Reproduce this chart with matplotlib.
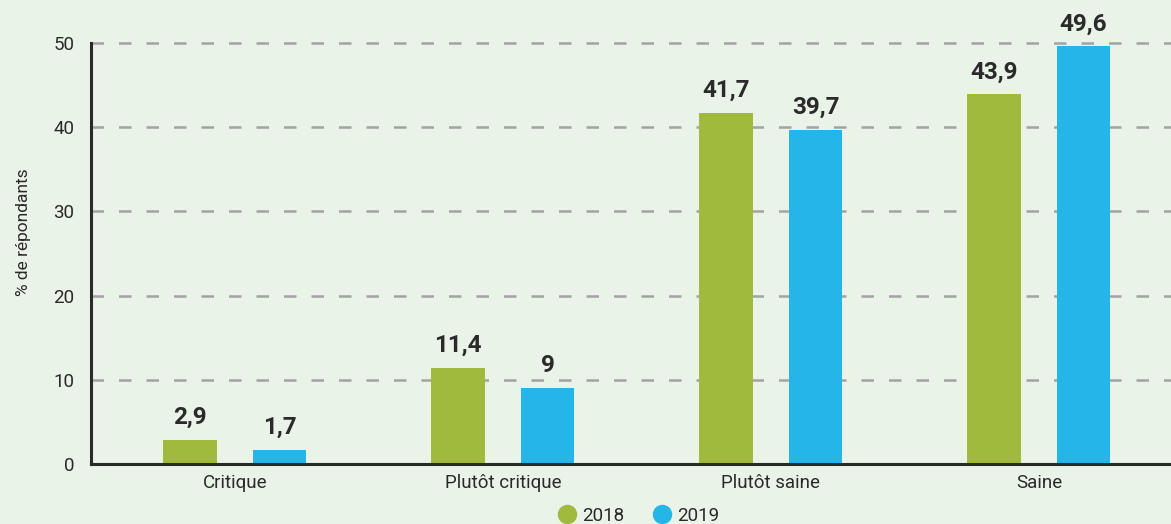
import numpy as np
import matplotlib.pyplot as plt
from matplotlib.lines import Line2D

plt.rcParams['font.family'] = ['Roboto', 'DejaVu Sans']

categories = ['Critique', 'Plutôt critique', 'Plutôt saine', 'Saine']
values_2018 = [2.9, 11.4, 41.7, 43.9]
values_2019 = [1.7, 9.0, 39.7, 49.6]
labels_2018 = ['2,9', '11,4', '41,7', '43,9']
labels_2019 = ['1,7', '9', '39,7', '49,6']
years = ['2018', '2019']
yticks = [0, 10, 20, 30, 40, 50]

bg = '#eaf3e7'
green = '#a0ba3e'
blue = '#25b6e8'
dark = '#2a2a2a'

fig = plt.figure(figsize=(11.71, 5.24), dpi=100, facecolor=bg)
ax = fig.add_axes([91 / 1171, 60 / 524, 1 - 91 / 1171, 464 / 524])
ax.set_facecolor(bg)

x = np.arange(len(categories))
w = 0.2
off = 0.167
b1 = ax.bar(x - off, values_2018, w, color=green, zorder=3)
b2 = ax.bar(x + off, values_2019, w, color=blue, zorder=3)

for bars, labs in ((b1, labels_2018), (b2, labels_2019)):
    for r, lab in zip(bars, labs):
        ax.text(r.get_x() + r.get_width() / 2, r.get_height() + 1.3, lab,
                ha='center', va='bottom', fontsize=17.5, fontweight='bold',
                color=dark, zorder=4)

# dashed grid, not at zero
for t in yticks[1:]:
    ax.axhline(t, color='#a3a3a3', lw=1.8, ls=(0, (5, 6)), zorder=1)

ax.set_xlim(-0.537, 3.493)
ax.set_ylim(0, 55.1)
ax.set_yticks(yticks)
ax.set_xticks(x)
ax.set_xticklabels(categories)
ax.tick_params(axis='both', length=0, labelsize=13.5, colors=dark)
ax.tick_params(axis='y', pad=12)
ax.tick_params(axis='x', pad=7)

for s in ['top', 'right']:
    ax.spines[s].set_visible(False)
ax.spines['left'].set_bounds(0, 50)
for s in ['left', 'bottom']:
    ax.spines[s].set_color(dark)
    ax.spines[s].set_linewidth(2.2)
    ax.spines[s].set_zorder(5)

ax.set_ylabel('% de répondants', fontsize=12.5, color=dark)
ax.yaxis.set_label_coords(-0.056, 0.5)

handles = [Line2D([], [], marker='o', ls='', color=c, markersize=13)
           for c in (green, blue)]
fig.legend(handles, years, loc='center', bbox_to_anchor=(0.545, 0.016),
           ncol=2, frameon=False, fontsize=13.5, handletextpad=0.3,
           columnspacing=1.5, handlelength=1.0, labelcolor=dark)

fig.savefig('out.png', dpi=100, facecolor=bg)
